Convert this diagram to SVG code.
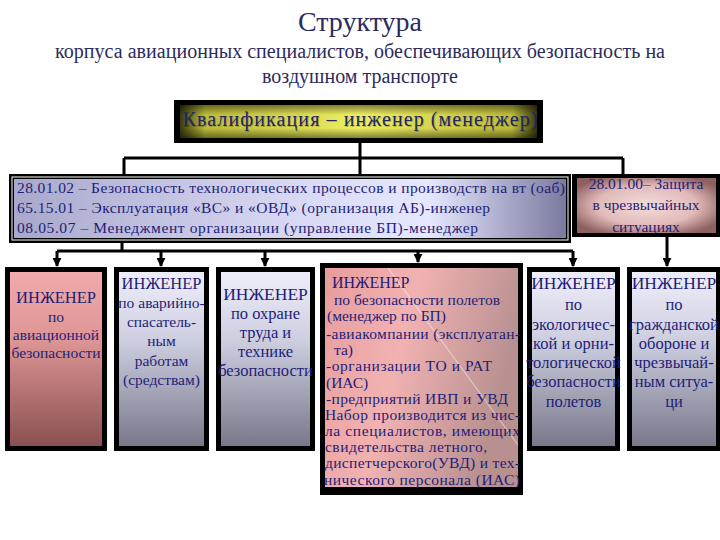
<svg xmlns="http://www.w3.org/2000/svg" width="720" height="540" viewBox="0 0 720 540">
<defs>
<style>
.ttl{font-family:"Liberation Serif","DejaVu Serif",serif;fill:#2b2b5e;text-anchor:middle}
.t{font-family:"Liberation Serif","DejaVu Serif",serif;fill:#1e1e78;font-size:15.5px}
.c{text-anchor:middle}
.h{font-size:16.5px}
.b{font-size:16.5px}
.bh{font-size:17.5px}
.ln{stroke:#000;stroke-width:3;fill:none}
.frame{fill:#000}
</style>
<linearGradient id="gY" x1="0" y1="0" x2="1" y2="0">
<stop offset="0" stop-color="#3a3a0c"/><stop offset="0.07" stop-color="#bcbc3a"/><stop offset="0.5" stop-color="#eeee62"/><stop offset="0.93" stop-color="#bcbc3a"/><stop offset="1" stop-color="#3a3a0c"/>
</linearGradient>
<linearGradient id="gYv" x1="0" y1="0" x2="0" y2="1">
<stop offset="0" stop-color="#000" stop-opacity="0.45"/><stop offset="0.3" stop-color="#000" stop-opacity="0"/><stop offset="0.7" stop-color="#000" stop-opacity="0"/><stop offset="1" stop-color="#000" stop-opacity="0.45"/>
</linearGradient>
<linearGradient id="gB" x1="0" y1="0" x2="1" y2="0">
<stop offset="0" stop-color="#a8a8cc"/><stop offset="0.45" stop-color="#d4d4f0"/><stop offset="0.75" stop-color="#e6e8ff"/><stop offset="1" stop-color="#7a7aa0"/>
</linearGradient>
<radialGradient id="gPs" cx="0.5" cy="0.5" r="0.6">
<stop offset="0" stop-color="#f4dcdc"/><stop offset="0.6" stop-color="#e2baba"/><stop offset="1" stop-color="#8e6060"/>
</radialGradient>
<linearGradient id="g1" x1="0" y1="0" x2="0" y2="1">
<stop offset="0" stop-color="#f2aaaa"/><stop offset="0.4" stop-color="#dc9494"/><stop offset="1" stop-color="#8a5050"/>
</linearGradient>
<linearGradient id="gG" x1="0" y1="0" x2="0" y2="1">
<stop offset="0" stop-color="#eeeefa"/><stop offset="0.4" stop-color="#cdcde0"/><stop offset="1" stop-color="#78788a"/>
</linearGradient>
<linearGradient id="gP" x1="0" y1="0" x2="1" y2="0.3">
<stop offset="0" stop-color="#e89c9c"/><stop offset="0.45" stop-color="#f2b2b2"/><stop offset="1" stop-color="#b89090"/>
</linearGradient>
<marker id="ar" viewBox="0 0 10 10" refX="9" refY="5" markerWidth="3" markerHeight="3" orient="auto">
<path d="M0,0 L10,5 L0,10 z" fill="#000"/>
</marker>
<clipPath id="clipS"><rect x="577" y="178" width="139" height="55"/></clipPath>
</defs>

<g id="title">
<text class="ttl" x="360" y="31" font-size="28">Структура</text>
<text class="ttl" x="360" y="58" font-size="20" textLength="610">корпуса авиационных специалистов, обеспечивающих безопасность на</text>
<text class="ttl" x="360" y="83" font-size="20">воздушном транспорте</text>
</g>

<g id="connectors">
<path class="ln" d="M360,143 V158 M124,158 H623 M124,158 V176 M360,158 V176 M623,158 V176"/>
<path class="ln" d="M122,243 V251 M57,251 H573"/>
<path class="ln" d="M57,251 V266" marker-end="url(#ar)"/>
<path class="ln" d="M161,251 V266" marker-end="url(#ar)"/>
<path class="ln" d="M265,251 V266" marker-end="url(#ar)"/>
<path class="ln" d="M418,251 V262" marker-end="url(#ar)"/>
<path class="ln" d="M573,251 V266" marker-end="url(#ar)"/>
<path class="ln" d="M667,237 V266" marker-end="url(#ar)"/>
</g>

<g id="qual">
<rect class="frame" x="174" y="100" width="369" height="43"/>
<rect x="180" y="105" width="357" height="33" fill="url(#gY)"/>
<rect x="180" y="105" width="357" height="33" fill="url(#gYv)"/>
<text x="361" y="127" font-family="'Liberation Serif','DejaVu Serif',serif" font-size="20" fill="#000" opacity="0.2" text-anchor="middle" textLength="355">Квалификация – инженер (менеджер)</text>
<text x="360" y="126" font-family="'Liberation Serif','DejaVu Serif',serif" font-size="20" fill="#24246a" text-anchor="middle" textLength="355">Квалификация – инженер (менеджер)</text>
</g>

<g id="specialties">
<rect class="frame" x="9" y="174" width="562" height="69"/>
<rect x="12" y="177" width="556" height="63" fill="none" stroke="#fff" stroke-width="1"/>
<rect x="14" y="179" width="552" height="59" fill="url(#gB)"/>
<text class="t" x="17" y="193" font-size="16.5" textLength="548">28.01.02 – Безопасность технологических процессов и производств на вт (оаб)</text>
<text class="t" x="17" y="213" font-size="16.5" textLength="473">65.15.01 – Эксплуатация «ВС» и «ОВД» (организация АБ)-инженер</text>
<text class="t" x="17" y="233" font-size="16.5" textLength="461">08.05.07 – Менеджмент организации (управление БП)-менеджер</text>
</g>

<g id="emergency">
<rect class="frame" x="572" y="174" width="148" height="63"/>
<rect x="577" y="178" width="139" height="55" fill="url(#gPs)"/>
<g clip-path="url(#clipS)">
<text class="t c" x="646" y="189" font-size="16.5">28.01.00– Защита</text>
<text class="t c" x="646" y="210" font-size="16.5">в чрезвычайных</text>
<text class="t c" x="646" y="232" font-size="16.5">ситуациях</text>
</g>
</g>

<g id="eng-avsec">
<rect class="frame" x="5" y="267" width="102" height="184"/>
<rect x="10" y="272" width="92" height="174" fill="url(#g1)"/>
<text class="t c h" x="56" y="303">ИНЖЕНЕР</text>
<text class="t c" x="56" y="322">по</text>
<text class="t c" x="56" y="340">авиационной</text>
<text class="t c" x="56" y="358">безопасности</text>
</g>

<g id="eng-rescue">
<rect class="frame" x="114" y="267" width="95" height="184"/>
<rect x="119" y="272" width="85" height="174" fill="url(#gG)"/>
<text class="t c h" x="161.5" y="289">ИНЖЕНЕР</text>
<text class="t c" x="161.5" y="308">по аварийно-</text>
<text class="t c" x="161.5" y="327">спасатель-</text>
<text class="t c" x="161.5" y="346">ным</text>
<text class="t c" x="161.5" y="366">работам</text>
<text class="t c" x="161.5" y="385">(средствам)</text>
</g>

<g id="eng-labor">
<rect class="frame" x="216" y="267" width="99" height="184"/>
<rect x="221" y="272" width="89" height="174" fill="url(#gG)"/>
<text class="t c bh" x="265.5" y="300">ИНЖЕНЕР</text>
<text class="t c b" x="265.5" y="319">по охране</text>
<text class="t c b" x="265.5" y="338">труда и</text>
<text class="t c b" x="265.5" y="357">технике</text>
<text class="t c b" x="265.5" y="376">безопасности</text>
</g>

<g id="eng-flight">
<rect class="frame" x="320" y="263" width="203" height="232"/>
<rect x="325" y="268" width="193" height="219" fill="url(#gP)"/>
<line x1="388" y1="268" x2="518" y2="445" stroke="#fff" stroke-opacity="0.45" stroke-width="1.2"/>
<g class="t" font-size="15">
<text x="332" y="288" font-size="16">ИНЖЕНЕР</text>
<text x="334" y="305" textLength="166">по безопасности полетов</text>
<text x="327" y="321">(менеджер по БП)</text>
<text x="326" y="339" textLength="194">-авиакомпании (эксплуатан-</text>
<text x="334" y="355">та)</text>
<text x="326" y="371" textLength="166">-организации ТО и РАТ</text>
<text x="326" y="388">(ИАС)</text>
<text x="326" y="404" textLength="182">-предприятий ИВП и УВД</text>
<text x="325" y="420" textLength="195">Набор производится из чис-</text>
<text x="325" y="436" textLength="195">ла специалистов, имеющих</text>
<text x="325" y="452" textLength="162">свидетельства летного,</text>
<text x="325" y="468" textLength="195">диспетчерского(УВД) и тех-</text>
<text x="324" y="485" textLength="196">нического персонала (ИАС)</text>
</g>
</g>

<g id="eng-eco">
<rect class="frame" x="527" y="267" width="93" height="184"/>
<rect x="532" y="272" width="83" height="174" fill="url(#gG)"/>
<text class="t c bh" x="573.5" y="289">ИНЖЕНЕР</text>
<text class="t c b" x="573.5" y="310">по</text>
<text class="t c b" x="573.5" y="330">экологичес-</text>
<text class="t c b" x="573.5" y="349">кой и орни-</text>
<text class="t c b" x="573.5" y="368">тологической</text>
<text class="t c b" x="573.5" y="387">безопасности</text>
<text class="t c b" x="573.5" y="407">полетов</text>
</g>

<g id="eng-civil">
<rect class="frame" x="627" y="267" width="93" height="184"/>
<rect x="632" y="272" width="84" height="174" fill="url(#gG)"/>
<text class="t c bh" x="674" y="289">ИНЖЕНЕР</text>
<text class="t c b" x="674" y="310">по</text>
<text class="t c b" x="674" y="330">гражданской</text>
<text class="t c b" x="674" y="349">обороне и</text>
<text class="t c b" x="674" y="368">чрезвычай-</text>
<text class="t c b" x="674" y="387">ным ситуа-</text>
<text class="t c b" x="674" y="407">ци</text>
</g>
</svg>
